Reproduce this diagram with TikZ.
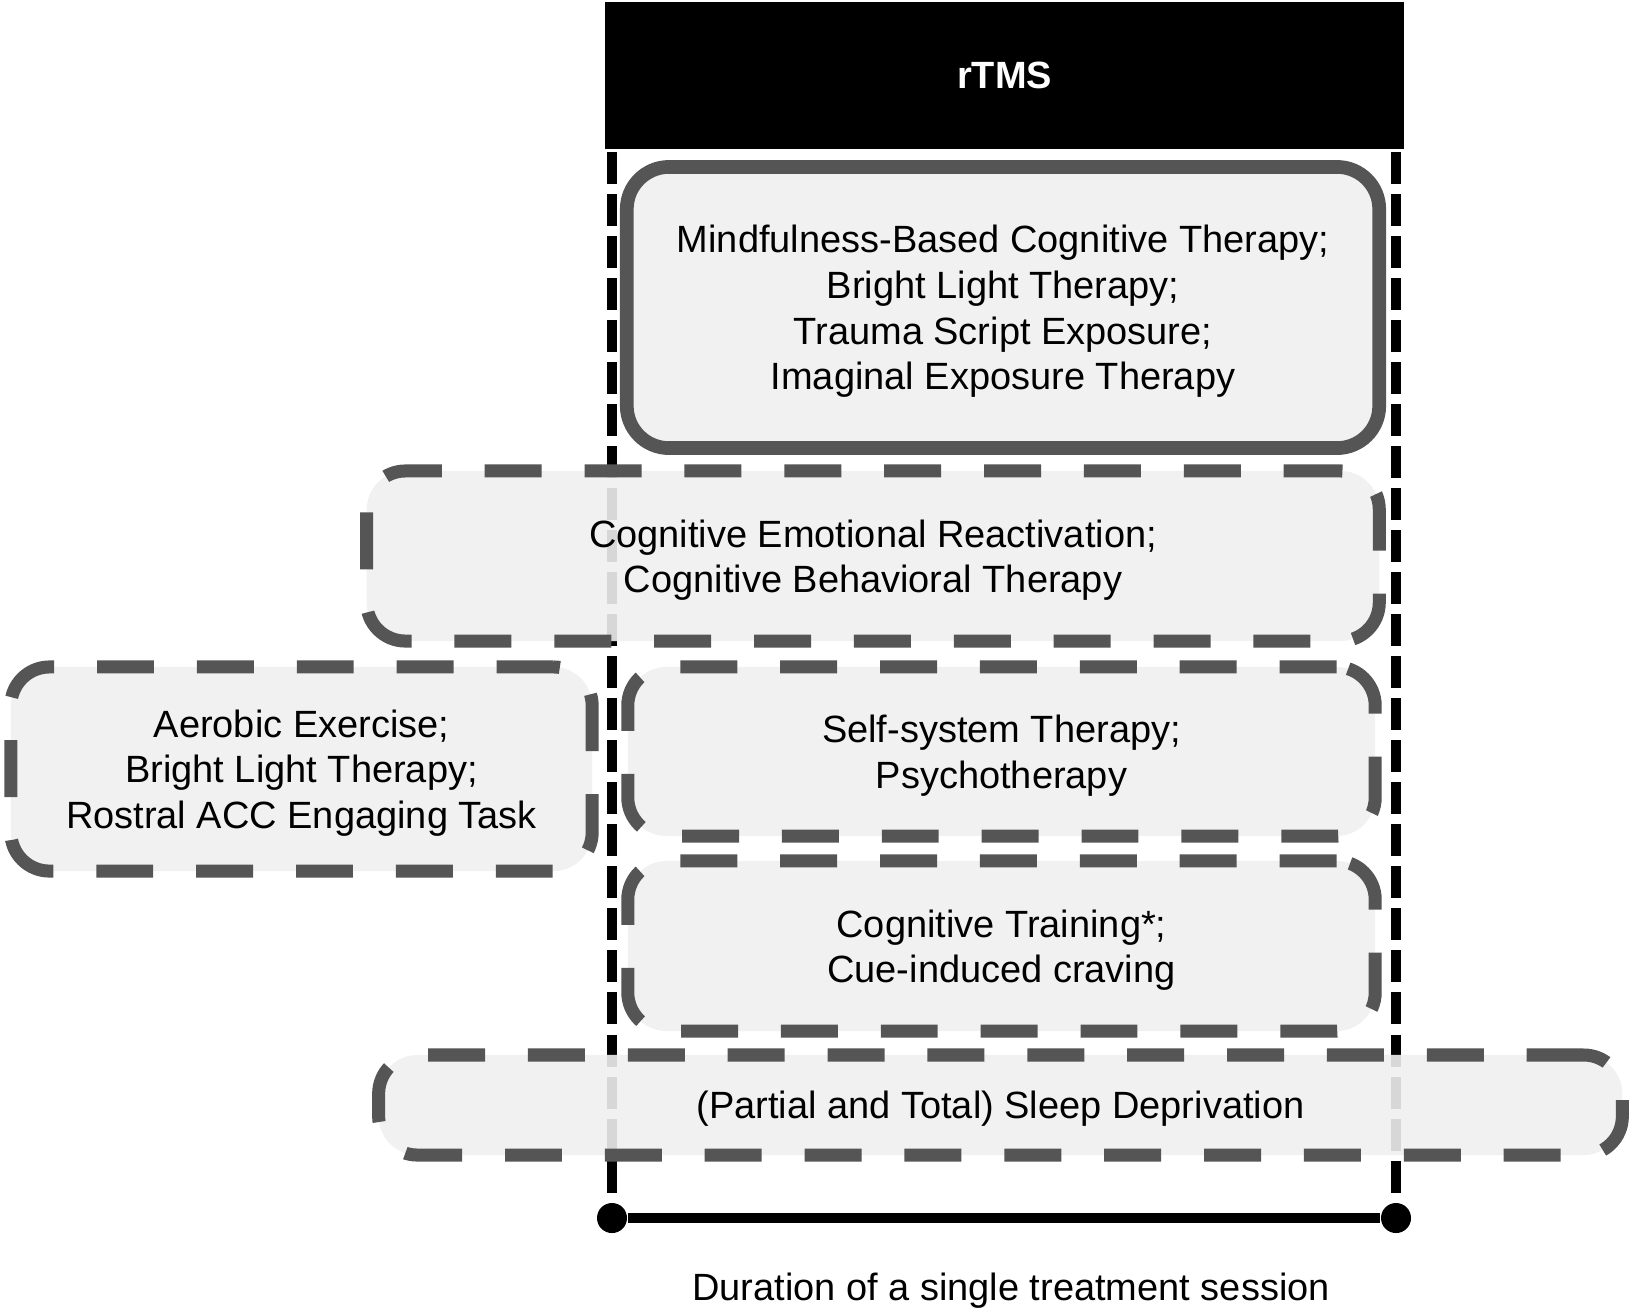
\documentclass[tikz,border=0pt]{standalone}
\usepackage{fontspec}
\setmainfont{Liberation Sans}
\definecolor{bordergray}{HTML}{555555}
\definecolor{fillgray}{HTML}{EFEFEF}
\tikzset{
  txt/.style={font=\fontsize{10.8}{12.95}\selectfont, align=center, text=black},
  solidbox/.style={txt, draw=bordergray, line width=3.9pt, fill=fillgray, fill opacity=0.9, text opacity=1, draw opacity=1, rounded corners=12pt, inner sep=0pt, text depth=0pt},
  dashbox/.style={solidbox, line width=3.7pt, rounded corners=11pt, dash pattern=on 16.2pt off 12.2pt},
  guide/.style={line width=2.85pt, dash pattern=on 9.1pt off 2.85pt},
  endpt/.style={circle, fill=black, minimum size=0.3cm, inner sep=0pt},
  headbox/.style={fill=black, text=white, font=\fontsize{10.8}{12.95}\selectfont\bfseries, inner sep=0pt},
}
\begin{document}
\begin{tikzpicture}[x=0.01cm, y=-0.01cm]
\useasboundingbox (0,0) rectangle (1633,1308);
% header
\node[headbox, minimum width=7.99cm, minimum height=1.47cm] (rtms) at (1004.5,75.5) {rTMS};
% guide lines and end points
\coordinate (lt) at (612,152);
\coordinate (rt) at (1396,152);
\node[endpt] (lb) at (612,1218) {};
\node[endpt] (rb) at (1396,1218) {};
\draw[guide] (lt) -- (lb);
\draw[guide] (rt) -- (rb);
\draw[line width=2.85pt] (lb) -- (rb);
% boxes
\node[solidbox, minimum width=7.52cm, minimum height=2.81cm] (mbct) at (1003,307.5)
  {Mindfulness-Based Cognitive Therapy;\\Bright Light Therapy;\\Trauma Script Exposure;\\Imaginal Exposure Therapy};
\node[dashbox, minimum width=10.12cm, minimum height=1.70cm] (cer) at (873,556)
  {Cognitive Emotional Reactivation;\\Cognitive Behavioral Therapy};
\node[dashbox, minimum width=5.81cm, minimum height=2.04cm] (aer) at (301.5,769)
  {Aerobic Exercise;\\Bright Light Therapy;\\Rostral ACC Engaging Task};
\node[dashbox, minimum width=7.47cm, minimum height=1.69cm] (sst) at (1001.5,751.5)
  {Self-system Therapy;\\Psychotherapy};
\node[dashbox, minimum width=7.47cm, minimum height=1.70cm] (ctr) at (1001.5,946)
  {Cognitive Training*;\\Cue-induced craving};
\node[dashbox, minimum width=12.43cm, minimum height=1.00cm] (sld) at (1000.5,1105)
  {(Partial and Total) Sleep Deprivation};
% label
\node[txt, anchor=base] (dur) at (1011,1300) {Duration of a single treatment session};
\end{tikzpicture}
\end{document}
